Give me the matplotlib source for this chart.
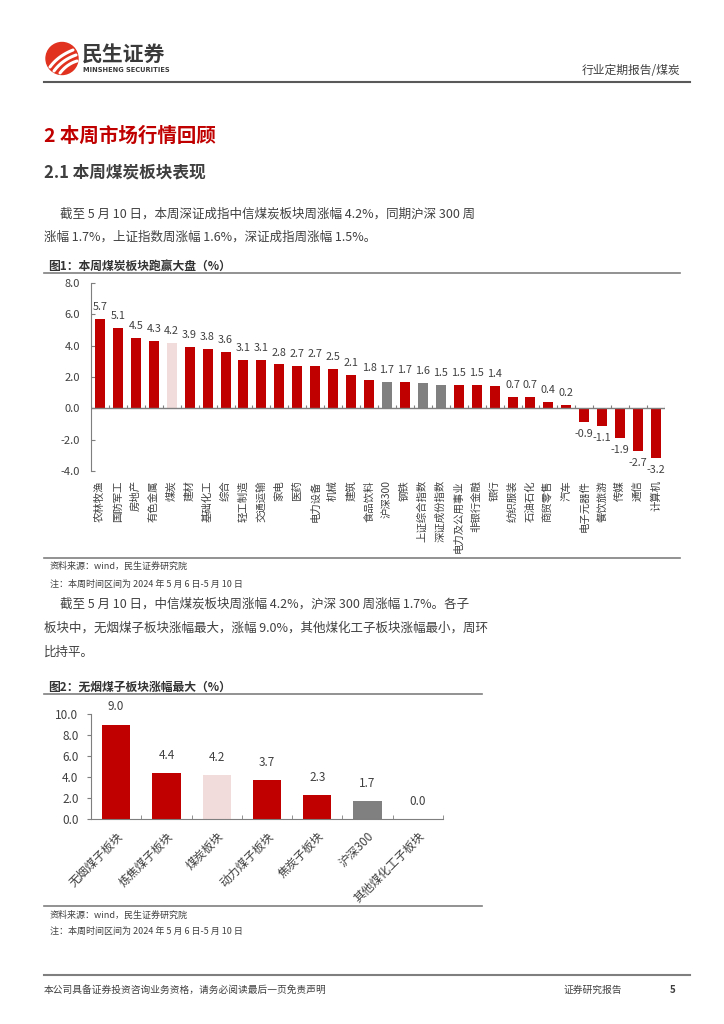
import matplotlib
matplotlib.use('Agg')
import matplotlib.pyplot as plt
import numpy as np
from matplotlib.lines import Line2D
from matplotlib.patches import Circle

plt.rcParams['font.family'] = ['Noto Sans CJK SC', 'DejaVu Sans']

# 图1 data: weekly change of CITIC sectors (%)
sectors = ['农林牧渔', '国防军工', '房地产', '有色金属', '煤炭', '建材', '基础化工', '综合',
           '轻工制造', '交通运输', '家电', '医药', '电力设备', '机械', '建筑', '食品饮料',
           '沪深300', '钢铁', '上证综合指数', '深证成份指数', '电力及公用事业', '非银行金融',
           '银行', '纺织服装', '石油石化', '商贸零售', '汽车', '电子元器件', '餐饮旅游',
           '传媒', '通信', '计算机']
sector_chg = [5.7, 5.1, 4.5, 4.3, 4.2, 3.9, 3.8, 3.6, 3.1, 3.1, 2.8, 2.7, 2.7, 2.5, 2.1, 1.8,
              1.7, 1.7, 1.6, 1.5, 1.5, 1.5, 1.4, 0.7, 0.7, 0.4, 0.2, -0.9, -1.1, -1.9, -2.7, -3.2]

# 图2 data: coal sub-sectors (%)
sub_names = ['无烟煤子板块', '炼焦煤子板块', '煤炭板块', '动力煤子板块', '焦炭子板块', '沪深300', '其他煤化工子板块']
sub_chg = [9.0, 4.4, 4.2, 3.7, 2.3, 1.7, 0.0]

highlight = ['煤炭', '煤炭板块']
benchmarks = ['沪深300', '上证综合指数', '深证成份指数']

RED = '#C00000'
PINK = '#F2DCDB'
GRAY = '#808080'
TXT = '#404040'
LINE = '#7f7f7f'


def bar_color(name):
    if name in highlight:
        return PINK
    if name in benchmarks:
        return GRAY
    return RED


W, H = 724, 1024
fig = plt.figure(figsize=(W / 100, H / 100), dpi=100)


def fx(x):
    return x / W


def fy(y):
    return 1 - y / H


def txt(x, y, s, **kw):
    kw.setdefault('color', TXT)
    fig.text(fx(x), fy(y), s, va='center', **kw)


def hline(x0, x1, y, color=LINE, lw=1.2):
    fig.add_artist(Line2D([fx(x0), fx(x1)], [fy(y), fy(y)], color=color, lw=lw,
                          transform=fig.transFigure))


# header / logo (pixel coords -> inches so the circle stays round)
inch = fig.dpi_scale_trans
fig.add_artist(Circle((62 / 100, (H - 58.5) / 100), 0.16, color='#E0321F', transform=inch))
for (x0, y0), (xm, ym), (x1, y1) in [((50, 67), (58, 56), (73, 50)),
                                     ((54, 71), (62, 60), (76, 55)),
                                     ((60, 73), (67, 64), (77, 61))]:
    t = np.linspace(0, 1, 20)
    xs = (1 - t) ** 2 * x0 + 2 * (1 - t) * t * xm + t ** 2 * x1
    ys = (1 - t) ** 2 * y0 + 2 * (1 - t) * t * ym + t ** 2 * y1
    fig.add_artist(Line2D(xs / 100, (H - ys) / 100, color='white', lw=2.2,
                          solid_capstyle='round', transform=inch))
txt(82, 55, '民生证券', fontsize=15, fontweight='bold', color='#3a3a3a')
txt(83, 70.5, 'MINSHENG SECURITIES', fontsize=4.8, fontweight='bold', color='#3a3a3a',
    family='DejaVu Sans')
txt(680, 70, '行业定期报告/煤炭', fontsize=8.5, ha='right')
hline(44, 690, 82, color='#595959', lw=1.5)

# headings and text
txt(44, 136, '2 本周市场行情回顾', fontsize=14, fontweight='bold', color=RED)
txt(44, 172, '2.1 本周煤炭板块表现', fontsize=12, fontweight='bold', color='#3f3f3f')
txt(60, 214, '截至 5 月 10 日，本周深证成指中信煤炭板块周涨幅 4.2%，同期沪深 300 周', fontsize=9)
txt(44, 237, '涨幅 1.7%，上证指数周涨幅 1.6%，深证成指周涨幅 1.5%。', fontsize=9)

txt(48, 266, '图1：本周煤炭板块跑赢大盘（%）', fontsize=8.5, fontweight='bold', color='#333333')
hline(44, 680, 273)
hline(44, 680, 558)
txt(50, 566, '资料来源：wind，民生证券研究院', fontsize=6.5)
txt(50, 584, '注：本周时间区间为 2024 年 5 月 6 日-5 月 10 日', fontsize=6.5)

txt(60, 604, '截至 5 月 10 日，中信煤炭板块周涨幅 4.2%，沪深 300 周涨幅 1.7%。各子', fontsize=9)
txt(44, 628, '板块中，无烟煤子板块涨幅最大，涨幅 9.0%，其他煤化工子板块涨幅最小，周环', fontsize=9)
txt(44, 652, '比持平。', fontsize=9)

txt(48, 687, '图2：无烟煤子板块涨幅最大（%）', fontsize=8.5, fontweight='bold', color='#333333')
hline(44, 482, 694)
hline(44, 482, 906)
txt(50, 915, '资料来源：wind，民生证券研究院', fontsize=6.5)
txt(50, 931, '注：本周时间区间为 2024 年 5 月 6 日-5 月 10 日', fontsize=6.5)

# footer
hline(44, 690, 975, color='#7f7f7f', lw=1.5)
txt(44, 990, '本公司具备证券投资咨询业务资格，请务必阅读最后一页免责声明', fontsize=7)
txt(563, 990, '证券研究报告', fontsize=7)
txt(676, 990, '5', fontsize=7, fontweight='bold', ha='right')

# chart 1
ax1 = fig.add_axes([fx(91), fy(471), (665 - 91) / W, (471 - 283) / H])
x1 = np.arange(len(sectors))
ax1.bar(x1, sector_chg, width=0.56, color=[bar_color(s) for s in sectors], zorder=2)
ax1.set_xlim(-0.5, len(sectors) - 0.5)
ax1.set_ylim(-4, 8)
ax1.set_yticks(np.arange(-4, 9, 2))
ax1.yaxis.set_major_formatter(lambda v, p: f'{v:.1f}')
ax1.tick_params(axis='y', direction='in', length=3, pad=8, labelsize=8,
                labelcolor=TXT, color=LINE)
ax1.set_xticks(x1)
ax1.set_xticklabels(sectors, rotation=90, fontsize=7.5, color=TXT)
ax1.tick_params(axis='x', length=0, pad=6.5)
for sp in ['top', 'right', 'bottom']:
    ax1.spines[sp].set_visible(False)
ax1.spines['left'].set_color(LINE)
ax1.axhline(0, color=LINE, lw=1, zorder=3)
ax1.vlines(np.arange(len(sectors) + 1) - 0.5, 0, 0.2, color=LINE, lw=0.8, zorder=3)
for xi, v in zip(x1, sector_chg):
    ax1.annotate(f'{v:.1f}', (xi, v), xytext=(0, 5 if v >= 0 else -5),
                 textcoords='offset points', ha='center',
                 va='bottom' if v >= 0 else 'top', fontsize=7.8, color=TXT)

# chart 2
ax2 = fig.add_axes([fx(91), fy(819), (443 - 91) / W, (819 - 714) / H])
x2 = np.arange(len(sub_names))
ax2.bar(x2, sub_chg, width=0.56, color=[bar_color(s) for s in sub_names], zorder=2)
ax2.set_xlim(-0.5, len(sub_names) - 0.5)
ax2.set_ylim(0, 10)
ax2.set_yticks(np.arange(0, 11, 2))
ax2.yaxis.set_major_formatter(lambda v, p: f'{v:.1f}')
ax2.tick_params(axis='y', direction='out', length=3, pad=6, labelsize=8.5,
                labelcolor=TXT, color=LINE)
ax2.set_xticks(x2)
ax2.set_xticklabels(sub_names, rotation=45, ha='right', rotation_mode='anchor',
                    fontsize=8.5, color=TXT)
ax2.tick_params(axis='x', length=0, pad=8)
ax2.set_xticks(np.arange(len(sub_names) + 1) - 0.5, minor=True)
ax2.tick_params(axis='x', which='minor', direction='in', length=3, color=LINE)
for sp in ['top', 'right']:
    ax2.spines[sp].set_visible(False)
ax2.spines['left'].set_color(LINE)
ax2.spines['bottom'].set_color(LINE)
for xi, v in zip(x2, sub_chg):
    ax2.annotate(f'{v:.1f}', (xi, v), xytext=(0, 8),
                 textcoords='offset points', ha='center', va='bottom',
                 fontsize=8.5, color=TXT)

fig.savefig('out.png', dpi=100)
